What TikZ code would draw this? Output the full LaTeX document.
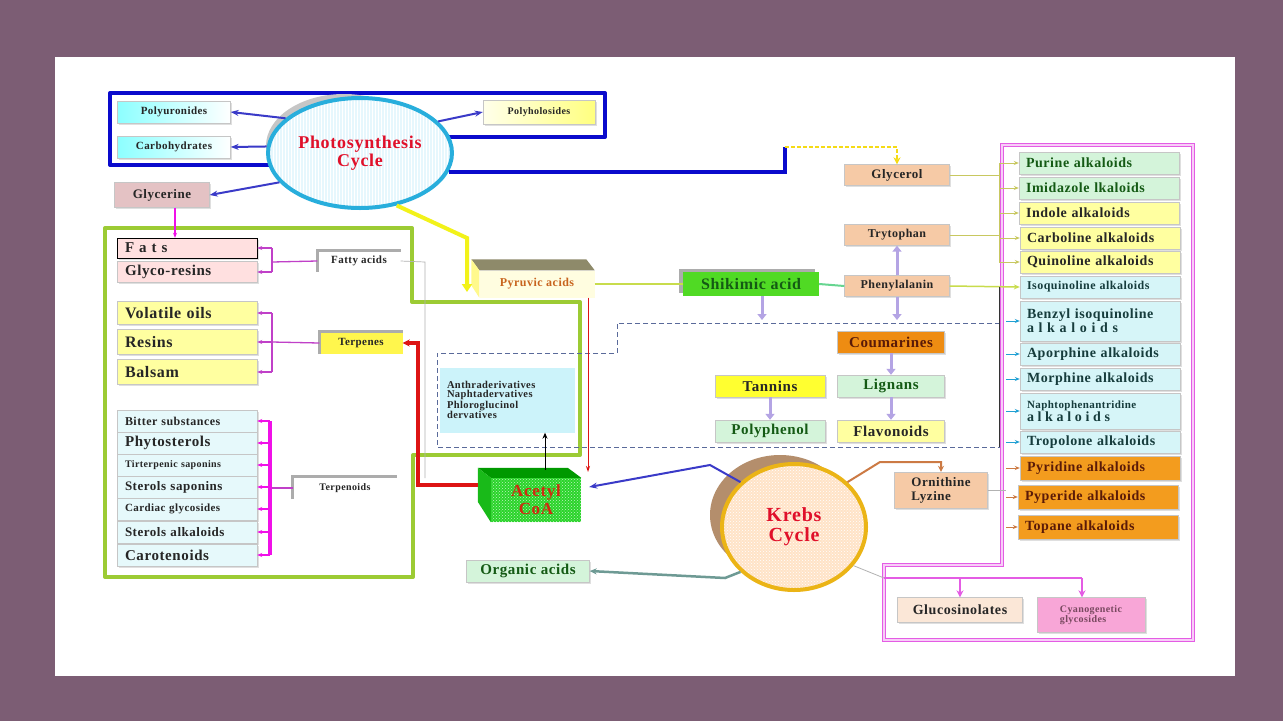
\documentclass[tikz,border=0pt]{standalone}
\usepackage{fontspec}
\setmainfont{Liberation Serif}[LetterSpace=4]
\usetikzlibrary{arrows.meta,shapes.geometric,shadows,patterns}

\definecolor{bgframe}{HTML}{7C5D74}
\definecolor{frblue}{HTML}{0A0ACC}
\definecolor{arblue}{HTML}{3A3AC8}
\definecolor{frgreen}{HTML}{9CCB34}
\definecolor{mgline}{HTML}{C040C8}
\definecolor{mgbold}{HTML}{F010E8}
\definecolor{pkframe}{HTML}{E45CE4}
\definecolor{lav}{HTML}{B4A4E4}
\definecolor{cyrim}{HTML}{28AEDC}
\definecolor{phred}{HTML}{E0102A}
\definecolor{gold}{HTML}{EBB416}
\definecolor{kshade}{HTML}{B48E6C}
\definecolor{pch}{HTML}{F6CAA6}
\definecolor{glyfill}{HTML}{E4C2C4}
\definecolor{orbox}{HTML}{F39C1E}
\definecolor{coum}{HTML}{EE8C12}
\definecolor{lgrn}{HTML}{D4F4DA}
\definecolor{lylw}{HTML}{FFFFA0}
\definecolor{lcyan}{HTML}{D6F5F8}
\definecolor{tyel}{HTML}{FFFF30}
\definecolor{shg}{HTML}{50DA24}
\definecolor{shtx}{HTML}{145A14}
\definecolor{acg}{HTML}{2AD42A}
\definecolor{acred}{HTML}{D02A10}
\definecolor{pyrtx}{HTML}{C8641E}
\definecolor{pytop}{HTML}{8E8A6A}
\definecolor{anthc}{HTML}{CCF3FA}
\definecolor{rdline}{HTML}{DD1414}
\definecolor{ylw}{HTML}{F2F21A}
\definecolor{olv}{HTML}{C8C860}
\definecolor{lnk}{HTML}{C8DC4C}
\definecolor{tealg}{HTML}{6E9A94}
\definecolor{brn}{HTML}{CC7A44}
\definecolor{dashc}{HTML}{5A6A9A}
\definecolor{alktx}{HTML}{163C3C}
\definecolor{ortx}{HTML}{5A1A08}

\newcommand{\psz}[1]{\fontsize{#1}{#1}\selectfont}

\begin{document}
\begin{tikzpicture}[x=1pt, y=-1pt,
		bx/.style  = {rectangle, draw=gray!45, inner sep=1pt, font=\bfseries, text=black!85,
			drop shadow={opacity=.25, shadow xshift=1.5pt, shadow yshift=-1.5pt}},
		sz/.style 2 args = {minimum width=#1pt, minimum height=#2pt},
		lc/.style  = {bx, text width=124pt, inner xsep=8pt, align=left, minimum height=#1pt},
		rc/.style  = {bx, text width=146pt, inner xsep=7pt, align=left, minimum height=#1pt},
		gl/.style  = {rectangle, inner sep=1pt, font=\bfseries, text=black!85},
		bl/.style  = {draw=arblue, line width=2pt, -{Stealth[length=8pt, width=6pt]}},
		mg/.style  = {draw=mgline, line width=1.3pt},
		mga/.style = {mg, -{Stealth[length=5pt, width=4pt]}},
		lv/.style  = {draw=lav, line width=3pt, -{Triangle[length=6pt, width=9pt]}},
		sa/.style  = {draw=#1, line width=.8pt, -{Stealth[length=5pt, width=4pt]}}
		]
		
		%Background
		\useasboundingbox (0,0) rectangle (1283,721);
		\fill[bgframe] (0,0) rectangle (1283,721);
		\fill[white] (55,57) rectangle (1235,676);
		
		%Frames
		\draw[frblue, line width=4pt, line join=round] (360,165) -- (110,165) -- (110,93) -- (605,93) -- (605,137) -- (360,137);
		\draw[frgreen, line width=4pt, line join=round] (105,228) -- (412,228) -- (412,302) -- (580,302) -- (580,455) -- (413,455) -- (413,577) -- (105,577) -- cycle;
		\draw[pkframe, line width=1.3pt, double=pkframe!30, double distance=1.3pt] (1002,145) -- (1193,145) -- (1193,640) -- (884,640) -- (884,565) -- (1002,565) -- cycle;
		\draw[dashc, line width=.9pt, dash pattern=on 5pt off 3pt] (1000,323) -- (617,323) -- (617,353) -- (437,353) -- (437,447) -- (1000,447);
		\fill[gray!45] (344,146) ellipse [x radius=78pt, y radius=52pt];
		\fill[kshade] (780,515) ellipse [x radius=70pt, y radius=60pt];
		
		%Nodes
		\node[ellipse, minimum width=166pt, minimum height=110pt, draw=cyrim, line width=4pt, preaction={fill=cyan!10}, pattern=vertical lines, pattern color=white, align=center, text=phred, font=\bfseries\fontsize{18}{18}\selectfont] (ph) at (360,153) {Photosynthesis\\Cycle};
		\node[bx, sz={113}{22}, left color=cyan!45, right color=white, font=\bfseries\psz{11}] (puro) at (174,112) {Polyuronides};
		\node[bx, sz={113}{22}, left color=cyan!45, right color=white, font=\bfseries\psz{11}] (carb) at (174,147) {Carbohydrates};
		\node[bx, sz={112}{24}, left color=yellow!8, right color=yellow!50, font=\bfseries\psz{10}] (polyho) at (539,112) {Polyholosides};
		\node[bx, sz={95}{25}, fill=glyfill, font=\bfseries\psz{13}] (glyc) at (162,195) {Glycerine};
		
		\node[lc=20, fill=red!12, draw=black, font=\bfseries\psz{15}] (fats) at (187,248) {F a t s};
		\node[lc=21, fill=red!12, font=\bfseries\psz{15}] (gly) at (187,272) {Glyco-resins};
		\node[lc=23, fill=lylw, font=\bfseries\psz{16}] (vol) at (187,313) {Volatile oils};
		\node[lc=25, fill=lylw, font=\bfseries\psz{16}] (res) at (187,342) {Resins};
		\node[lc=25, fill=lylw, font=\bfseries\psz{16}] (bal) at (187,372) {Balsam};
		\node[lc=22, fill=lcyan!60, font=\bfseries\psz{12}] (bit) at (187,421) {Bitter substances};
		\node[lc=22, fill=lcyan!60, font=\bfseries\psz{15}] (phy) at (187,443) {Phytosterols};
		\node[lc=22, fill=lcyan!60, font=\bfseries\psz{10}] (tir) at (187,465) {Tirterpenic saponins};
		\node[lc=22, fill=lcyan!60, font=\bfseries\psz{13}] (ssa) at (187,487) {Sterols saponins};
		\node[lc=22, fill=lcyan!60, font=\bfseries\psz{11}] (car) at (187,509) {Cardiac glycosides};
		\node[lc=22, fill=lcyan!60, font=\bfseries\psz{13}] (sal) at (187,532) {Sterols alkaloids};
		\node[lc=22, fill=lcyan!60, font=\bfseries\psz{15}] (cat) at (187,555) {Carotenoids};
		
		\node[gl, sz={83}{21}, font=\bfseries\psz{11}] (fa) at (359,261) {Fatty acids};
		\node[gl, sz={83}{22}, fill=yellow!70, font=\bfseries\psz{11}] (tp) at (361,343) {Terpenes};
		\node[gl, sz={104}{22}, font=\bfseries\psz{10}] (td) at (345,488) {Terpenoids};
		
		\node[gl, sz={115}{27}, fill=yellow!12, text=pyrtx, font=\bfseries\psz{12}] (pyr) at (537,284) {Pyruvic acids};
		\node[gl, sz={135}{65}, fill=anthc, text width=120pt, align=left, font=\bfseries\fontsize{10.5}{9.5}\selectfont] (anth) at (507,400) {Anthraderivatives\\Naphtadervatives\\Phloroglucinol\\dervatives};
		\node[gl, sz={90}{44}, preaction={fill=acg}, pattern=crosshatch dots, pattern color=white!70!acg, align=center, text=acred, font=\bfseries\fontsize{17}{18}\selectfont] (acetyl) at (536,500) {Acetyl\\CoA};
		\node[gl, sz={136}{24}, fill=shg, text=shtx, font=\bfseries\psz{16}, general shadow={fill=gray!65, shadow xshift=-4pt, shadow yshift=3pt}] (shk) at (751,284) {Shikimic acid};
		
		\node[bx, sz={105}{21}, fill=pch, font=\bfseries\psz{13}] (gly2) at (897,175) {Glycerol};
		\node[bx, sz={105}{21}, fill=pch, font=\bfseries\psz{12}] (try) at (897,235) {Trytophan};
		\node[bx, sz={105}{21}, fill=pch, font=\bfseries\psz{12}] (phe) at (897,286) {Phenylalanin};
		\node[bx, sz={107}{22}, fill=coum, text=ortx, font=\bfseries\psz{15}] (cou) at (891,342) {Coumarines};
		\node[bx, sz={110}{22}, fill=tyel, font=\bfseries\psz{15}] (tan) at (770,386) {Tannins};
		\node[bx, sz={107}{22}, fill=lgrn, text=shtx, font=\bfseries\psz{15}] (lig) at (891,386) {Lignans};
		\node[bx, sz={110}{22}, fill=lgrn, text=shtx, font=\bfseries\psz{15}] (pol) at (770,431) {Polyphenol};
		\node[bx, sz={107}{22}, fill=lylw, font=\bfseries\psz{15}] (fla) at (891,431) {Flavonoids};
		
		\node[rc=22, fill=lgrn, text=shtx, font=\bfseries\psz{14}] (pur) at (1099,163) {Purine alkaloids};
		\node[rc=22, fill=lgrn, text=shtx, font=\bfseries\psz{14}] (imi) at (1099,188) {Imidazole lkaloids};
		\node[rc=22, fill=lylw, font=\bfseries\psz{14}] (ind) at (1099,213) {Indole alkaloids};
		\node[rc=22, fill=lylw, font=\bfseries\psz{14}] (cbl) at (1100,238) {Carboline alkaloids};
		\node[rc=22, fill=lylw, font=\bfseries\psz{14}] (qui) at (1100,262) {Quinoline alkaloids};
		\node[rc=22, fill=lcyan, text=alktx, font=\bfseries\psz{12}] (iso) at (1100,287) {Isoquinoline alkaloids};
		\node[rc=40, fill=lcyan, text=alktx, font=\bfseries\fontsize{14}{14}\selectfont] (bnz) at (1100,321) {Benzyl isoquinoline\\a l k a l o i d s};
		\node[rc=22, fill=lcyan, text=alktx, font=\bfseries\psz{14}] (apo) at (1100,354) {Aporphine alkaloids};
		\node[rc=22, fill=lcyan, text=alktx, font=\bfseries\psz{14}] (mor) at (1100,379) {Morphine alkaloids};
		\node[rc=36, fill=lcyan, text=alktx, font=\bfseries\fontsize{11}{12}\selectfont] (nap) at (1100,411) {Naphtophenantridine\\{\psz{14}a l k a l o i d s}};
		\node[rc=22, fill=lcyan, text=alktx, font=\bfseries\psz{14}] (tro) at (1100,442) {Tropolone alkaloids};
		\node[rc=24, fill=orbox, text=ortx, font=\bfseries\psz{14}] (pyri) at (1100,468) {Pyridine alkaloids};
		\node[rc=24, fill=orbox, text=ortx, font=\bfseries\psz{14}] (pype) at (1098,497) {Pyperide alkaloids};
		\node[rc=24, fill=orbox, text=ortx, font=\bfseries\psz{14}] (topa) at (1098,527) {Topane alkaloids};
		
		\node[ellipse, minimum width=144pt, minimum height=126pt, draw=gold, line width=4pt, preaction={fill=orange!22}, pattern=crosshatch dots, pattern color=white, align=center, text=phred, font=\bfseries\fontsize{20}{20}\selectfont] (kr) at (794,527) {Krebs\\Cycle};
		\node[bx, sz={93}{36}, fill=pch, align=left, font=\bfseries\fontsize{13}{14}\selectfont] (orn) at (941,490) {Ornithine\\Lyzine};
		\node[bx, sz={123}{22}, fill=lgrn, text=shtx, font=\bfseries\psz{15}] (org) at (528,571) {Organic acids};
		\node[bx, sz={125}{25}, fill=pch!45, font=\bfseries\psz{14}] (glu) at (960,610) {Glucosinolates};
		\node[bx, sz={108}{35}, fill=magenta!35, align=left, text=black!60!magenta, font=\bfseries\fontsize{10}{10}\selectfont] (cya) at (1091,615) {Cyanogenetic\\glycosides};
		
		%Faces
		\fill[pytop] (pyr.north west) -- ++(-8,-11) -- ++(115,0) -- (pyr.north east) -- cycle;
		\fill[yellow!45] (pyr.north west) -- ++(-8,-11) -- ++(0,26) -- (pyr.south west) -- cycle;
		\fill[green!60!black] (acetyl.north west) -- ++(-13,-10) -- ++(90,0) -- (acetyl.north east) -- cycle;
		\fill[green!70!black!90] (acetyl.north west) -- ++(-13,-10) -- ++(0,34) -- (acetyl.south west) -- cycle;
		\foreach \n in {fa,tp,td}
			\draw[gray!65, line width=3pt] (\n.south west) |- (\n.north east);
		
		%Coordinates
		\coordinate (bk2) at (785,147);
		\coordinate (yb) at (467,238);
		\coordinate (yt) at (467,292);
		\coordinate (fab) at (272,262);
		\coordinate (tpb) at (272,342);
		\coordinate (tdb) at (270,488);
		\coordinate (rdc) at (418,485);
		\coordinate (acl) at (478,485);
		\coordinate (fag) at (425,262);
		\coordinate (fae) at (425,478);
		\coordinate (prd) at (588,472);
		\coordinate (actop) at (545,470);
		\coordinate (kbl) at (710,465);
		\coordinate (kt) at (725,578);
		\coordinate (ob) at (880,462);
		\coordinate (pkb) at (884,578);
		\coordinate (pkc) at (1082,578);
		\coordinate (sd) at (762,320);
		\coordinate (pd) at (897,320);
		\coordinate (alb) at (999,163);
		\coordinate (alc) at (999,447);
		\coordinate (pkl) at (1006,320);
		
		%Lines
		\draw[bl]	(ph.155)	--	(puro.east);
		\draw[bl]	(ph.176)	--	(carb.east);
		\draw[bl]	(ph.22)		--	(polyho.west);
		\draw[bl]	(ph.200)	--	(glyc.east);
		\draw[frblue, line width=4pt]	(ph.348)	-|	(bk2);
		\draw[ylw!80!orange, line width=2pt, dash pattern=on 4pt off 2pt, -{Stealth[length=7pt, width=7pt]}]	(bk2)	-|	(gly2.north);
		\draw[ylw, line width=4pt, -{Triangle[length=8pt, width=10pt]}]	(ph.305)	--	(yb)	--	(yt);
		\draw[mga, draw=mgbold]	([xshift=13pt]glyc.south)	--	([xshift=-12pt]fats.north);
		
		\draw[mg]	(fa.west)	--	(fab);
		\draw[mg]	(fats.east -| fab)	--	(gly.east -| fab);
		\foreach \n in {fats,gly}
			\draw[mga]	(\n.east -| fab)	--	(\n.east);
		\draw[mg]	(tp.west)	--	(tpb);
		\draw[mg]	(vol.east -| tpb)	--	(bal.east -| tpb);
		\foreach \n in {vol,res,bal}
			\draw[mga]	(\n.east -| tpb)	--	(\n.east);
		\draw[mg]	(td.west)	--	(tdb);
		\draw[mgbold, line width=4pt]	(bit.east -| tdb)	--	(cat.east -| tdb);
		\foreach \n in {bit,phy,tir,ssa,car,sal,cat}
			\draw[mga, draw=mgbold]	(\n.east -| tdb)	--	(\n.east);
		
		\draw[rdline, line width=3.5pt, -{Stealth[length=7pt, width=7pt]}]	(acl)	--	(rdc)	|-	(tp.east);
		\draw[gray!60, line width=.7pt]	(fa.east)	--	(fag)	--	(fae);
		\draw[rdline, line width=1pt, -{Stealth[length=6pt, width=4pt]}]	(pyr.south -| prd)	--	(prd);
		\draw[lnk, line width=1.5pt]	(pyr.east)	--	(shk.west);
		\draw[green!45!teal!60, line width=2pt]	(shk.east)	--	(phe.west);
		\draw[lnk, line width=1.5pt, -{Stealth[length=6pt, width=5pt]}]	(phe.east)	--	(iso.west);
		\draw[black, line width=.8pt, -{Stealth[length=6pt, width=5pt]}]	(actop)	--	(actop |- anth.south);
		
		\draw[bl]	(kr.140)	--	(kbl)	--	([xshift=8pt, yshift=13pt]acetyl.east);
		\draw[tealg, line width=2.5pt, -{Stealth[length=7pt, width=6pt]}]	(kr.220)	--	(kt)	--	(org.east);
		\draw[brn, line width=2pt, -{Stealth[length=6pt, width=6pt]}]	(kr.40)	--	(ob)	-|	(orn.north);
		\draw[gray!60, line width=.8pt]	(kr.327)	--	(pkb);
		\draw[pkframe, line width=2pt]	(pkb)	--	(pkc);
		\draw[sa=pkframe, line width=2pt, -{Stealth[length=7pt, width=7pt]}]	(pkb -| glu.north)	--	(glu.north);
		\draw[sa=pkframe, line width=2pt, -{Stealth[length=7pt, width=7pt]}]	(pkc)	--	(pkc |- cya.north);
		
		\draw[lv]	([xshift=11pt]shk.south)	--	(sd);
		\draw[lv]	(phe.south)	--	(pd);
		\draw[lv]	(phe.north)	--	(try.south);
		\draw[lv]	(cou.south)	--	(lig.north);
		\draw[lv]	(lig.south)	--	(fla.north);
		\draw[lv]	(tan.south)	--	(pol.north);
		
		\draw[olv, line width=1pt]	(gly2.east)	--	(gly2.east -| alb);
		\draw[olv, line width=1pt]	(try.east)	--	(try.east -| alb);
		\draw[olv, line width=1pt]	(pur.west -| alb)	--	(qui.west -| alb);
		\foreach \n in {pur,imi,ind,cbl,qui}
			\draw[sa=olv]	(\n.west -| alb)	--	(\n.west);
		\draw[black!80, line width=.8pt]	(iso.west -| alb)	--	(alc);
		\foreach \n in {bnz,apo,mor,nap,tro}
			\draw[sa=cyan!70!teal]	(\n.west -| pkl)	--	(\n.west);
		\draw[gray!60, line width=.8pt]	(orn.east)	--	(orn.east -| pkl);
		\foreach \n in {pyri,pype,topa}
			\draw[sa=brn]	(\n.west -| pkl)	--	(\n.west);
	\end{tikzpicture}
\end{document}
